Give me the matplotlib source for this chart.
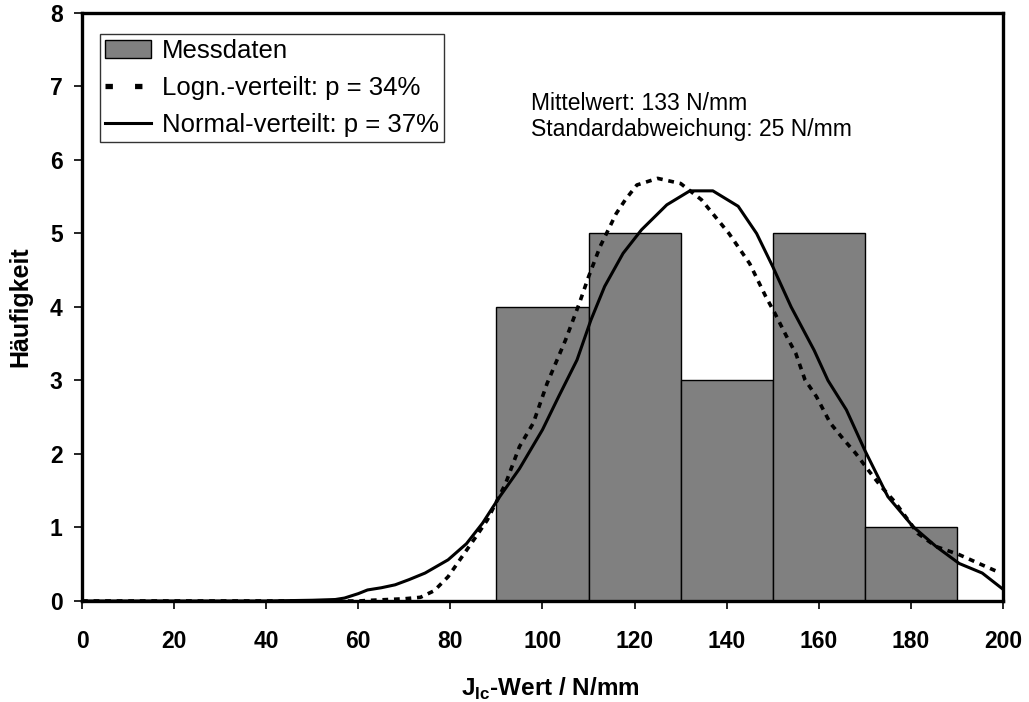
import matplotlib
matplotlib.use("Agg")
import matplotlib.pyplot as plt
from matplotlib.lines import Line2D

plt.rcParams['font.family'] = ['Liberation Sans', 'DejaVu Sans']
plt.rcParams['mathtext.fontset'] = 'custom'
plt.rcParams['mathtext.rm'] = 'Liberation Sans'
plt.rcParams['mathtext.bf'] = 'Liberation Sans:bold'

# histogram of the measured values (class edges and counts)
bin_left = [90, 110, 130, 150, 170]
bin_width = 20
counts = [4, 5, 3, 5, 1]

# fitted normal distribution, scaled to counts
norm_x = [0, 10, 20, 30, 40, 50, 55, 57, 60, 62, 65, 68, 71, 74.5, 79.5, 83.5, 87, 90.5,
          95, 100, 103.5, 107.5, 110.5, 113.5, 117.5, 121.5, 127, 132, 137, 142.5, 146.5,
          150, 154, 159, 162, 166, 170, 175, 180.5, 185.5, 190.5, 195.5, 200]
norm_y = [0, 0, 0, 0, 0, 0.01, 0.02, 0.04, 0.1, 0.15, 0.18, 0.22, 0.29, 0.38, 0.56, 0.78,
          1.06, 1.4, 1.8, 2.33, 2.78, 3.28, 3.82, 4.28, 4.73, 5.05, 5.39, 5.58, 5.58, 5.37,
          5.0, 4.55, 4.0, 3.41, 3.0, 2.6, 2.05, 1.42, 1.01, 0.74, 0.51, 0.38, 0.16]

# fitted lognormal distribution, scaled to counts
logn_x = [0, 10, 20, 30, 40, 50, 60, 63, 70, 73.5, 76.5, 79.5, 82.5, 85.5, 88, 92, 95,
          98, 101, 105, 108, 110, 112.5, 116, 118, 120.5, 125, 130, 134.5, 137.5, 140.5,
          145, 148.5, 150.5, 153, 155, 157, 159.5, 162.5, 165.5, 168, 171, 173.5, 176.5,
          181.5, 185.5, 190.5, 195.5, 199.5]
logn_y = [0, 0, 0, 0, 0, 0, 0, 0.01, 0.03, 0.05, 0.14, 0.33, 0.6, 0.87, 1.1, 1.6, 2.1,
          2.42, 2.96, 3.55, 4.05, 4.41, 4.82, 5.27, 5.46, 5.66, 5.75, 5.68, 5.46, 5.23,
          5.0, 4.59, 4.14, 3.91, 3.6, 3.37, 3.01, 2.78, 2.42, 2.19, 2.01, 1.76, 1.56, 1.35,
          0.92, 0.74, 0.63, 0.49, 0.38]

x_ticks = [0, 20, 40, 60, 80, 100, 120, 140, 160, 180, 200]
y_ticks = [0, 1, 2, 3, 4, 5, 6, 7, 8]

fig = plt.figure(figsize=(10.29, 7.02), dpi=100)
ax = fig.add_axes([0.0797, 0.1439, 0.8950, 0.8376])

bars = ax.bar(bin_left, counts, width=bin_width, align='edge', color='#808080',
              edgecolor='black', linewidth=1.0, label='Messdaten', zorder=2)
logn_line, = ax.plot(logn_x, logn_y, color='black', linewidth=2.6, dashes=(1.6, 1.6),
                     dash_capstyle='butt', label='Logn.-verteilt: p = 34%', zorder=3)
norm_line, = ax.plot(norm_x, norm_y, color='black', linewidth=2.2,
                     label='Normal-verteilt: p = 37%', zorder=3)

ax.set_xlim(0, 200)
ax.set_ylim(0, 8)
ax.set_xticks(x_ticks)
ax.set_yticks(y_ticks)

for s in ax.spines.values():
    s.set_linewidth(2.4)
ax.tick_params(axis='both', direction='out', length=6, width=1.2, labelsize=16.5)
ax.tick_params(axis='x', pad=15)
ax.tick_params(axis='y', pad=8)
for lbl in ax.get_xticklabels() + ax.get_yticklabels():
    lbl.set_fontweight('bold')

ax.set_xlabel(r'J$_{\mathbf{Ic}}$-Wert / N/mm', fontsize=17.5, fontweight='bold')
ax.set_ylabel('Häufigkeit', fontsize=18, fontweight='bold')
ax.xaxis.set_label_coords(0.509, -0.128)
ax.yaxis.set_label_coords(-0.054, 0.5)

ax.text(97.5, 6.68, 'Mittelwert: 133 N/mm', fontsize=16.5, va='baseline')
ax.text(97.5, 6.32, 'Standardabweichung: 25 N/mm', fontsize=16.5, va='baseline')

# legend key for the dotted curve uses larger, wider spaced squares
logn_key = Line2D([], [], color='black', linewidth=3.8, dashes=(1.4, 4.2),
                  dash_capstyle='butt')

leg = ax.legend([bars, logn_key, norm_line],
                ['Messdaten', 'Logn.-verteilt: p = 34%', 'Normal-verteilt: p = 37%'],
                loc='upper left', bbox_to_anchor=(0.0195, 0.964), borderaxespad=0,
                fontsize=18.5, frameon=True, fancybox=False, handlelength=1.8,
                handletextpad=0.4, labelspacing=0.5, borderpad=0.2)
leg.get_frame().set_edgecolor('black')
leg.get_frame().set_linewidth(1.0)

fig.savefig('out.png', dpi=100)
